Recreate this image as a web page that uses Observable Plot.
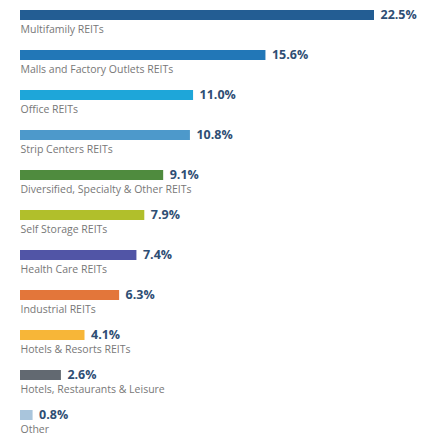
<!DOCTYPE html>
<html>
<head>
<meta charset="utf-8">
<script src="https://cdn.jsdelivr.net/npm/d3@7"></script>
<script src="https://cdn.jsdelivr.net/npm/@observablehq/plot@0.6"></script>
<style>
  html, body { margin: 0; padding: 0; background: #fff; }
  #chart svg { display: block; }
</style>
</head>
<body>
<div id="chart"></div>
<script>
const categories = [
  "Multifamily REITs",
  "Malls and Factory Outlets REITs",
  "Office REITs",
  "Strip Centers REITs",
  "Diversified, Specialty & Other REITs",
  "Self Storage REITs",
  "Health Care REITs",
  "Industrial REITs",
  "Hotels & Resorts REITs",
  "Hotels, Restaurants & Leisure",
  "Other"
];
const values = [22.5, 15.6, 11.0, 10.8, 9.1, 7.9, 7.4, 6.3, 4.1, 2.6, 0.8];
const labels = ["22.5%", "15.6%", "11.0%", "10.8%", "9.1%", "7.9%", "7.4%", "6.3%", "4.1%", "2.6%", "0.8%"];
const colors = ["#235d93", "#2277b7", "#1ea6d9", "#4d99cb", "#4f8b3e", "#b1bf2b", "#5155a6", "#e3763a", "#f7b638", "#626971", "#a9c5dc"];

const data = categories.map((c, i) => ({category: c, value: values[i], label: labels[i], color: colors[i]}));

const rowStep = 40;
const chart = Plot.plot({
  width: 422,
  height: 438,
  marginLeft: 20,
  marginRight: 48,
  marginTop: 0,
  marginBottom: 0,
  style: {fontFamily: "'Open Sans', sans-serif", background: "#fff"},
  x: {domain: [0, 22.5], range: [20, 374], axis: null},
  y: {domain: categories, range: [10, 10 + rowStep * categories.length], padding: 0, round: false, axis: null},
  marks: [
    Plot.barX(data, {x: "value", y: "category", fill: d => d.color, insetBottom: rowStep - 10}),
    Plot.text(data, {x: "value", y: "category", text: "label", textAnchor: "start", dx: 6, dy: -15.4, fontSize: 12.5, fontWeight: "bold", fill: "#2e4e74"}),
    Plot.text(data, {x: 0, y: "category", text: "category", textAnchor: "start", dy: -0.5, fontSize: 10.5, fill: "#777"})
  ]
});
document.getElementById("chart").appendChild(chart);
</script>
</body>
</html>
